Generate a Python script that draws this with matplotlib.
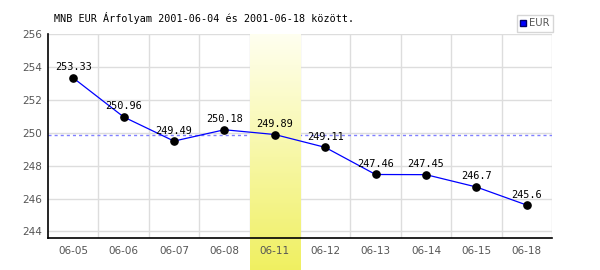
import matplotlib
matplotlib.use("Agg")
import matplotlib.pyplot as plt
import numpy as np
from matplotlib.patches import Patch

title = "MNB EUR Árfolyam 2001-06-04 és 2001-06-18 között."
series_name = "EUR"
dates = ["06-05", "06-06", "06-07", "06-08", "06-11", "06-12", "06-13", "06-14", "06-15", "06-18"]
values = [253.33, 250.96, 249.49, 250.18, 249.89, 249.11, 247.46, 247.45, 246.7, 245.6]
value_labels = ["253.33", "250.96", "249.49", "250.18", "249.89", "249.11", "247.46", "247.45", "246.7", "245.6"]
highlight_index = 4
yticks = [244, 246, 248, 250, 252, 254, 256]

W, H = 600, 270
fig = plt.figure(figsize=(W / 100, H / 100), dpi=100)
ax = fig.add_axes([48 / W, 1 - 238 / H, (552 - 48) / W, (238 - 34) / H])

x = np.arange(len(dates))
ax.set_xlim(-0.5, len(dates) - 0.5)
ymin, ymax = 243.6, 256
ax.set_ylim(ymin, ymax)

# highlight gradient column (extends below the axis)
px_per_unit = (238 - 34) / (ymax - ymin)
ybot = ymin - (270 - 238) / px_per_unit
grad = np.linspace(0, 1, 256)[:, None]
top_c = np.array([1.0, 1.0, 0.94])
bot_c = np.array([0.94, 0.94, 0.38])
img = top_c[None, None, :] * (1 - grad[:, :, None]) + bot_c[None, None, :] * grad[:, :, None]
ax.imshow(img, extent=(highlight_index - 0.5, highlight_index + 0.5, ybot, ymax),
          aspect="auto", origin="upper", zorder=0.8, clip_on=False)

# grid
for yt in yticks:
    ax.axhline(yt, color="#dddddd", lw=1, zorder=0.5)
for i in range(len(dates)):
    ax.axvline(i + 0.5, color="#dddddd", lw=1, zorder=0.5)

# dashed reference at highlighted value (behind highlight)
ax.axhline(values[highlight_index], color="#8080ff", lw=1, ls=(0, (2.2, 2.2)), zorder=0.6)

ax.plot(x, values, color="#0000ff", lw=0.9, zorder=2)
ax.plot(x, values, "o", color="black", ms=5.2, zorder=3)

for xi, v, lab in zip(x, values, value_labels):
    ax.annotate(lab, (xi, v), xytext=(0, 4), textcoords="offset points",
                ha="center", va="bottom", fontsize=7.4, family="DejaVu Sans Mono",
                color="black", zorder=4)

ax.set_xticks(x)
ax.set_xticklabels(dates)
ax.set_yticks(yticks)
ax.set_yticklabels([str(t) for t in yticks])
ax.tick_params(length=0, labelsize=7.5, labelcolor="#555555")
ax.tick_params(axis="x", pad=6)
ax.tick_params(axis="y", pad=4)

for s in ["top", "right"]:
    ax.spines[s].set_visible(False)
ax.spines["left"].set_color("black")
ax.spines["bottom"].set_color("black")
ax.spines["left"].set_linewidth(1.2)
ax.spines["bottom"].set_linewidth(1.2)
ax.spines["left"].set_zorder(5)
ax.spines["bottom"].set_zorder(5)

fig.text(54 / W, 1 - 18 / H, title, fontsize=7.3, family="DejaVu Sans Mono",
         ha="left", va="center", color="black")

leg = fig.legend(handles=[Patch(facecolor="#0000ff", edgecolor="#000066", label=series_name)],
                 loc="upper right", bbox_to_anchor=(553 / W, 1 - 15 / H),
                 fontsize=7.2, frameon=True, fancybox=False, borderpad=0.35,
                 handlelength=0.6, handleheight=0.6, handletextpad=0.3,
                 borderaxespad=0)
leg.get_frame().set_edgecolor("#cccccc")
leg.get_frame().set_linewidth(1)
for t in leg.get_texts():
    t.set_color("#555555")

fig.savefig("out.png", dpi=100)
